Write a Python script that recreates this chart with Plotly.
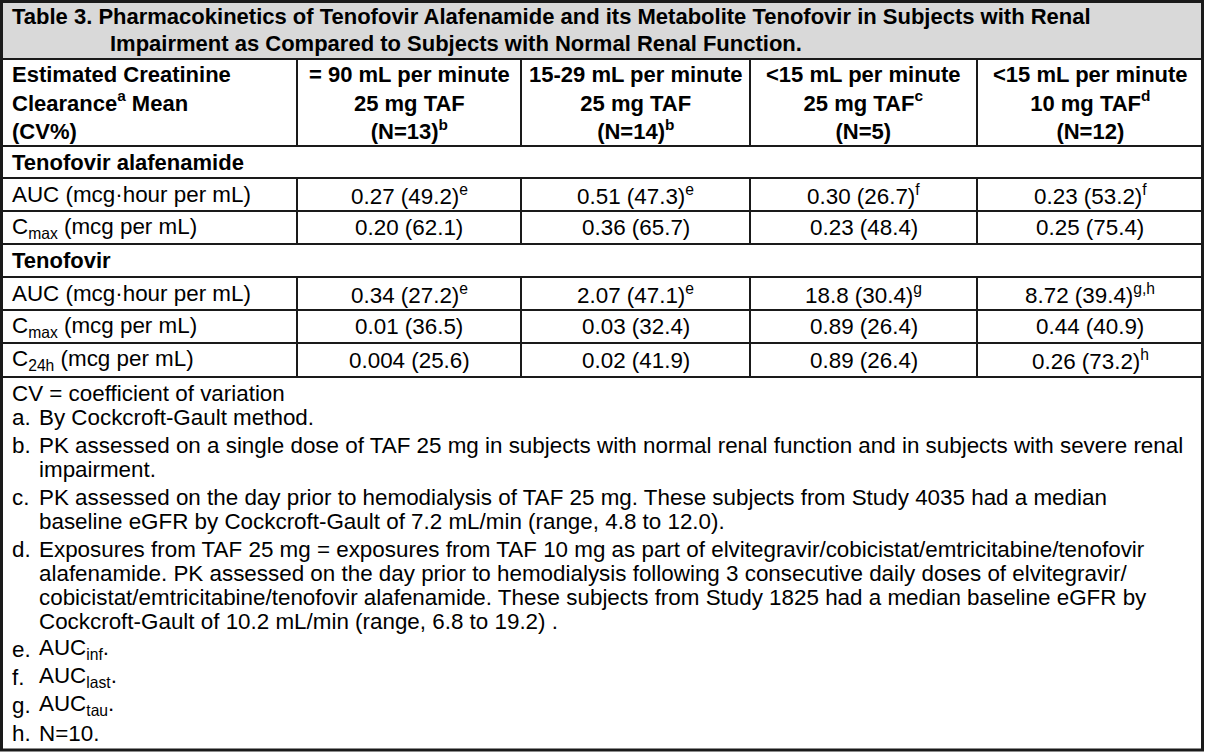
import plotly.graph_objects as go

# table text
title_lines = [
    "Table 3. Pharmacokinetics of Tenofovir Alafenamide and its Metabolite Tenofovir in Subjects with Renal",
    "Impairment as Compared to Subjects with Normal Renal Function.",
]
col_headers = [
    "Estimated Creatinine<br>Clearance<sup>a</sup> Mean<br>(CV%)",
    "= 90 mL per minute<br>25 mg TAF<br>(N=13)<sup>b</sup>",
    "15-29 mL per minute<br>25 mg TAF<br>(N=14)<sup>b</sup>",
    "<15 mL per minute<br>25 mg TAF<sup>c</sup><br>(N=5)",
    "<15 mL per minute<br>10 mg TAF<sup>d</sup><br>(N=12)",
]
groups = ["Tenofovir alafenamide", "Tenofovir"]

taf_params = ["AUC (mcg·hour per mL)", "C<sub>max</sub> (mcg per mL)"]
taf_normal = ["0.27 (49.2)<sup>e</sup>", "0.20 (62.1)"]
taf_15_29 = ["0.51 (47.3)<sup>e</sup>", "0.36 (65.7)"]
taf_lt15_25 = ["0.30 (26.7)<sup>f</sup>", "0.23 (48.4)"]
taf_lt15_10 = ["0.23 (53.2)<sup>f</sup>", "0.25 (75.4)"]

tfv_params = ["AUC (mcg·hour per mL)", "C<sub>max</sub> (mcg per mL)", "C<sub>24h</sub> (mcg per mL)"]
tfv_normal = ["0.34 (27.2)<sup>e</sup>", "0.01 (36.5)", "0.004 (25.6)"]
tfv_15_29 = ["2.07 (47.1)<sup>e</sup>", "0.03 (32.4)", "0.02 (41.9)"]
tfv_lt15_25 = ["18.8 (30.4)<sup>g</sup>", "0.89 (26.4)", "0.89 (26.4)"]
tfv_lt15_10 = ["8.72 (39.4)<sup>g,h</sup>", "0.44 (40.9)", "0.26 (73.2)<sup>h</sup>"]

footnote_labels = ["", "a.", "b.", "c.", "d.", "e.", "f.", "g.", "h."]
footnote_texts = [
    ["CV = coefficient of variation"],
    ["By Cockcroft-Gault method."],
    ["PK assessed on a single dose of TAF 25 mg in subjects with normal renal function and in subjects with severe renal",
     "impairment."],
    ["PK assessed on the day prior to hemodialysis of TAF 25 mg. These subjects from Study 4035 had a median",
     "baseline eGFR by Cockcroft-Gault of 7.2 mL/min (range, 4.8 to 12.0)."],
    ["Exposures from TAF 25 mg = exposures from TAF 10 mg as part of elvitegravir/cobicistat/emtricitabine/tenofovir",
     "alafenamide. PK assessed on the day prior to hemodialysis following 3 consecutive daily doses of elvitegravir/",
     "cobicistat/emtricitabine/tenofovir alafenamide. These subjects from Study 1825 had a median baseline eGFR by",
     "Cockcroft-Gault of 10.2 mL/min (range, 6.8 to 19.2) ."],
    ["AUC<sub>inf</sub>."],
    ["AUC<sub>last</sub>."],
    ["AUC<sub>tau</sub>."],
    ["N=10."],
]

# layout (pixels)
W, H = 1205, 752
FONT = "Liberation Sans, Arial, Helvetica, sans-serif"
FS = 22.4      # regular text
FS_B = 22      # bold text
LINE = "#1a1a1a"
col_edges = [1, 297, 521, 750, 977, 1203]
title_bottom, header_bottom = 59, 146
taf_edges = [146, 178, 211, 244]      # group row, then data rows
tfv_edges = [244, 277, 310, 343, 377]
table_bottom = 750

fig = go.Figure()
shape_line = dict(color=LINE, width=2)


def hline(y, x0=col_edges[0], x1=col_edges[-1]):
    fig.add_shape(type="line", x0=x0, x1=x1, y0=y, y1=y, line=shape_line, layer="above")


def vlines(y0, y1):
    for x in col_edges[1:-1]:
        fig.add_shape(type="line", x0=x, x1=x, y0=y0, y1=y1, line=shape_line, layer="above")


def text(x, y, s, anchor="center", bold=False):
    fig.add_annotation(x=x, y=y, xref="x", yref="y", text=("<b>%s</b>" % s) if bold else s,
                       showarrow=False, xanchor=anchor, yanchor="middle", align=anchor,
                       font=dict(family=FONT, size=FS_B if bold else FS, color="black"))


def cell_x(j):
    if j == 0:
        return col_edges[0] + 9, "left"
    return (col_edges[j] + col_edges[j + 1]) / 2, "center"


# title band
fig.add_shape(type="rect", x0=col_edges[0], x1=col_edges[-1], y0=1, y1=title_bottom,
              fillcolor="#d9d9d9", line_width=0, layer="below")
text(col_edges[0] + 9, 16.5, title_lines[0], "left", bold=True)
text(108, 43.5, title_lines[1], "left", bold=True)

# column headers
for j, h in enumerate(col_headers):
    x, a = cell_x(j)
    text(x, (title_bottom + header_bottom) / 2, h, a, bold=True)
vlines(title_bottom, header_bottom)

# data blocks
blocks = [
    (groups[0], taf_edges, [taf_params, taf_normal, taf_15_29, taf_lt15_25, taf_lt15_10]),
    (groups[1], tfv_edges, [tfv_params, tfv_normal, tfv_15_29, tfv_lt15_25, tfv_lt15_10]),
]
for name, edges, cols in blocks:
    text(col_edges[0] + 9, (edges[0] + edges[1]) / 2, name, "left", bold=True)
    for i in range(len(cols[0])):
        yc = (edges[i + 1] + edges[i + 2]) / 2
        for j, col in enumerate(cols):
            x, a = cell_x(j)
            text(x, yc, col[i], a)
    for y in edges:
        hline(y)
    vlines(edges[1], edges[-1])

hline(title_bottom)
hline(header_bottom)

# outer frame, a little heavier
fig.add_shape(type="rect", x0=1.5, x1=1202.5, y0=1.5, y1=table_bottom,
              line=dict(color=LINE, width=3), layer="above")

# footnotes, one annotation per printed line
y = 393
for k, (label, lines) in enumerate(zip(footnote_labels, footnote_texts)):
    if k == 1:
        y += 24
    elif k > 1:
        y += 28
    if label:
        text(10, y, label, "left")
    for n, line in enumerate(lines):
        if n:
            y += 24
        text(37 if label else 10, y, line, "left")

fig.update_xaxes(range=[0, W], visible=False, fixedrange=True)
fig.update_yaxes(range=[H, 0], visible=False, fixedrange=True)
fig.update_layout(width=W, height=H, margin=dict(l=0, r=0, t=0, b=0),
                  paper_bgcolor="white", plot_bgcolor="white", showlegend=False)
fig.write_html("out.html", config={"displayModeBar": False},
               post_script="document.body.style.margin='0px';")
